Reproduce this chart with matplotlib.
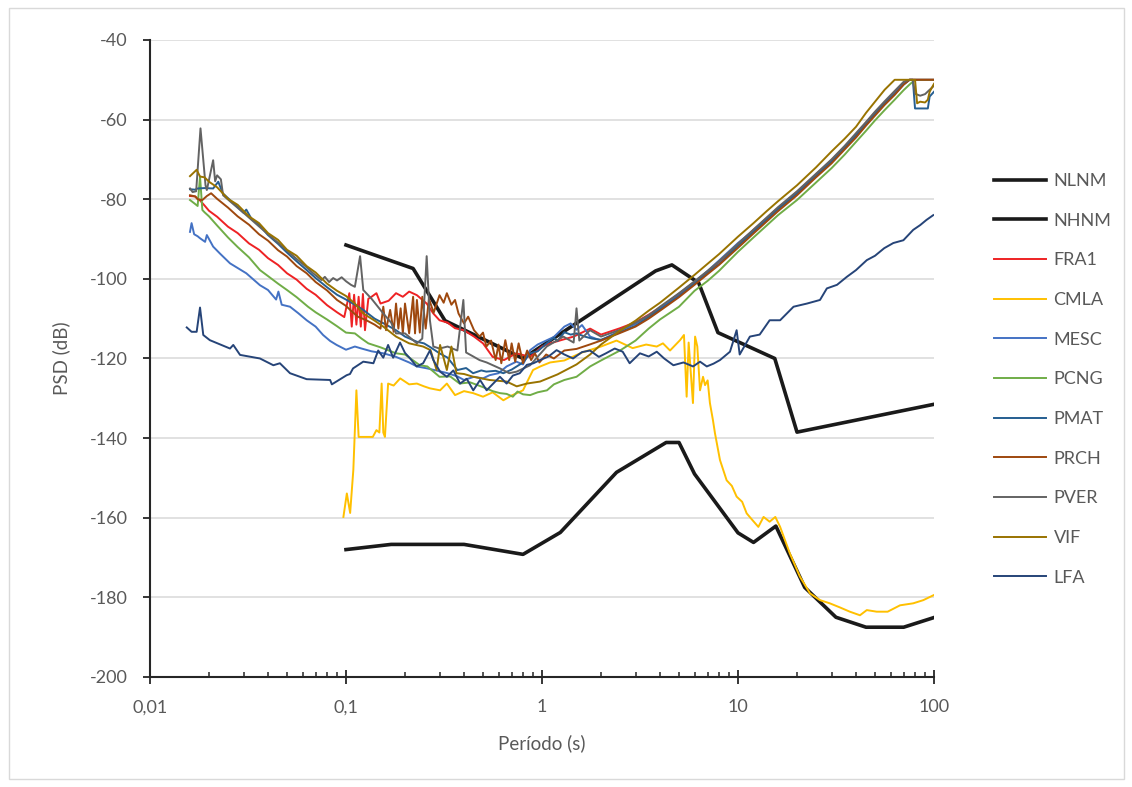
import matplotlib
matplotlib.use('Agg')
import matplotlib.pyplot as plt
from matplotlib.ticker import FixedLocator, NullFormatter
from matplotlib.patches import Rectangle

plt.rcParams['font.family'] = ['Lato', 'DejaVu Sans']
plt.rcParams['axes.unicode_minus'] = False

# ---- reference noise models (period s, PSD dB) ----
NLNM_T = [0.1, 0.17, 0.4, 0.8, 1.24, 2.4, 4.3, 5.0, 6.0, 10.0, 12.0, 15.6, 21.9, 31.6, 45.0, 70.0, 101.0]
NLNM_V = [-168.0, -166.7, -166.7, -169.2, -163.7, -148.6, -141.1, -141.1, -149.0, -163.8, -166.2, -162.1,
          -177.5, -185.0, -187.5, -187.5, -185.0]

NHNM_T = [0.1, 0.22, 0.32, 0.8, 3.8, 4.6, 6.3, 7.9, 15.4, 20.0, 354.8]
NHNM_V = [-91.5, -97.4, -110.5, -120.0, -98.0, -96.5, -101.0, -113.5, -120.0, -138.5, -126.0]

# ---- stations ----
FRA1_T = [0.016, 0.017, 0.018, 0.019, 0.02, 0.022, 0.025, 0.028, 0.032, 0.036,
          0.04, 0.045, 0.05, 0.056, 0.063, 0.07, 0.08, 0.09, 0.098, 0.104,
          0.107, 0.11, 0.113, 0.116, 0.119, 0.122, 0.125, 0.13, 0.135, 0.143,
          0.15, 0.165, 0.18, 0.195, 0.21, 0.23, 0.258, 0.279, 0.3, 0.33,
          0.36, 0.4, 0.45, 0.5, 0.56, 0.64, 0.74, 0.87, 1.0, 1.1,
          1.25, 1.45, 1.76, 2.0, 2.5, 3.0, 3.5, 4.0, 5.0, 6.0,
          7.0, 8.0, 10, 12, 14, 16, 20, 25, 30, 35,
          40, 45, 50, 56, 63, 70, 75, 80, 85, 90,
          95, 100]
FRA1_V = [-79.2, -79.3, -80.3, -81.6, -82.9, -84.4, -86.9, -88.5, -91.1, -92.7,
          -94.8, -96.5, -98.6, -100.2, -102.5, -104.0, -106.6, -108.4, -109.6, -103.6,
          -112.0, -104.0, -111.5, -104.5, -112.0, -103.8, -112.9, -105.0, -104.5, -103.6,
          -106.2, -105.5, -103.6, -104.5, -103.2, -104.1, -106.2, -108.7, -110.4, -111.0,
          -112.4, -112.9, -114.5, -116.2, -119.6, -120.4, -118.7, -119.6, -117.0, -116.2,
          -115.4, -114.5, -112.5, -114.0, -112.4, -110.9, -109.0, -107.2, -103.8, -100.8,
          -98.2, -95.7, -91.2, -87.7, -84.8, -82.2, -78.2, -73.8, -70.2, -66.8,
          -63.7, -60.8, -58.2, -55.7, -53.2, -50.8, -50.0, -50.0, -50.0, -50.0,
          -50.0, -50.0]

CMLA_T = [0.097, 0.101, 0.105, 0.109, 0.113, 0.116, 0.125, 0.137, 0.143, 0.148,
          0.152, 0.155, 0.158, 0.164, 0.175, 0.189, 0.21, 0.23, 0.25, 0.268,
          0.302, 0.327, 0.36, 0.4, 0.445, 0.5, 0.56, 0.635, 0.7, 0.8,
          0.9, 0.98, 1.1, 1.3, 1.6, 2.0, 2.4, 2.9, 3.4, 3.85,
          4.14, 4.5, 5.06, 5.3, 5.47, 5.6, 5.89, 6.04, 6.2, 6.4,
          6.63, 6.79, 7.0, 7.19, 7.45, 7.63, 8.09, 8.75, 9.3, 9.84,
          10.5, 11.07, 11.8, 12.7, 13.5, 14.5, 15.5, 16.4, 18.4, 20.7,
          23.3, 26.2, 29.4, 33, 37.2, 41.9, 45.4, 51, 58, 67.1,
          78.3, 88.2, 100]
CMLA_V = [-159.8, -153.9, -158.8, -148.0, -128.0, -139.7, -139.7, -139.7, -138.0, -138.6,
          -126.3, -138.6, -139.7, -126.3, -126.8, -125.0, -126.5, -126.3, -127.0, -127.5,
          -128.0, -126.3, -129.2, -128.2, -128.7, -129.6, -128.5, -130.5, -129.3, -128.0,
          -122.9, -122.0, -121.0, -120.5, -118.5, -117.0, -115.5, -117.4, -116.5, -117.0,
          -116.2, -118.0, -115.4, -114.1, -129.6, -116.0, -131.2, -114.5, -117.0, -128.0,
          -124.6, -126.7, -125.5, -131.2, -135.5, -138.8, -145.5, -150.6, -152.0, -154.7,
          -156.0, -158.9, -160.5, -162.3, -159.8, -161.0, -159.8, -162.3, -169.0, -174.8,
          -179.0, -180.7, -181.5, -182.5, -183.6, -184.5, -183.2, -183.6, -183.6, -182.0,
          -181.5, -180.7, -179.4]

MESC_T = [0.016, 0.0163, 0.0168, 0.0175, 0.018, 0.0191, 0.0195, 0.021, 0.0227, 0.0256,
          0.031, 0.0364, 0.04, 0.044, 0.0452, 0.047, 0.0518, 0.057, 0.063, 0.07,
          0.0764, 0.083, 0.0896, 0.1, 0.111, 0.12, 0.135, 0.155, 0.18, 0.21,
          0.23, 0.26, 0.3, 0.33, 0.37, 0.4, 0.45, 0.5, 0.54, 0.6,
          0.66, 0.74, 0.8, 0.87, 0.95, 1.06, 1.15, 1.3, 1.4, 1.5,
          1.6, 1.76, 2.0, 2.5, 3.0, 3.5, 4.0, 5.0, 6.0, 7.0,
          8.0, 10, 12, 14, 16, 20, 25, 30, 35, 40,
          45, 50, 56, 63, 70, 75, 80, 85, 90, 95,
          100]
MESC_V = [-88.2, -86.0, -88.8, -89.3, -89.8, -90.7, -89.0, -91.9, -93.6, -96.1,
          -98.6, -101.6, -102.8, -105.2, -103.2, -106.5, -107.0, -108.6, -110.4, -112.0,
          -114.1, -115.6, -116.6, -117.8, -117.0, -117.5, -118.2, -118.7, -119.6, -121.0,
          -122.0, -122.5, -123.2, -123.7, -124.5, -125.4, -124.6, -125.0, -124.2, -123.7,
          -122.0, -120.8, -121.5, -117.9, -116.5, -115.4, -114.6, -112.0, -111.2, -112.8,
          -111.6, -114.5, -115.5, -113.0, -111.3, -109.2, -107.4, -103.7, -100.8, -98.0,
          -95.4, -91.0, -87.8, -84.8, -82.3, -78.3, -73.8, -70.3, -66.9, -63.8,
          -60.9, -58.4, -55.9, -53.4, -51.0, -50.0, -50.0, -50.0, -50.0, -50.0,
          -50.0]

PCNG_T = [0.016, 0.017, 0.0175, 0.018, 0.0185, 0.019, 0.02, 0.022, 0.025, 0.028,
          0.032, 0.0364, 0.04, 0.045, 0.05, 0.056, 0.064, 0.07, 0.08, 0.09,
          0.1, 0.111, 0.12, 0.13, 0.15, 0.18, 0.2, 0.238, 0.26, 0.3,
          0.34, 0.38, 0.43, 0.5, 0.56, 0.61, 0.66, 0.71, 0.75, 0.8,
          0.87, 0.95, 1.06, 1.15, 1.3, 1.5, 1.76, 2.0, 2.5, 3.0,
          3.5, 4.0, 5.0, 6.0, 7.0, 8.0, 10, 12, 14, 16,
          20, 25, 30, 35, 40, 45, 50, 56, 63, 70,
          75, 80, 85, 90, 95, 100]
PCNG_V = [-80.2, -81.2, -81.7, -74.3, -82.7, -83.3, -84.3, -86.6, -89.6, -92.0,
          -94.6, -97.8, -99.3, -101.2, -102.8, -104.6, -107.0, -108.4, -110.2, -111.9,
          -113.5, -113.7, -115.0, -116.2, -117.2, -118.7, -119.0, -121.7, -122.0, -124.6,
          -124.5, -126.3, -126.0, -127.2, -128.2, -128.7, -128.9, -129.6, -128.3, -129.0,
          -129.2, -128.5, -128.0, -126.5, -125.4, -124.6, -122.0, -120.5, -118.0, -115.5,
          -112.5, -110.2, -107.0, -103.0, -100.5, -98.0, -93.2, -89.6, -86.6, -84.0,
          -80.2, -75.8, -72.2, -68.8, -65.6, -62.8, -60.2, -57.6, -55.0, -52.6,
          -51.2, -50.0, -50.0, -50.0, -50.0, -50.0]

PMAT_T = [0.016, 0.017, 0.0175, 0.019, 0.021, 0.0223, 0.0235, 0.026, 0.03, 0.031,
          0.033, 0.036, 0.04, 0.045, 0.05, 0.056, 0.063, 0.07, 0.08, 0.09,
          0.1, 0.111, 0.1225, 0.14, 0.16, 0.18, 0.2, 0.23, 0.25, 0.27,
          0.3, 0.33, 0.37, 0.41, 0.445, 0.49, 0.52, 0.58, 0.635, 0.7,
          0.743, 0.8, 0.87, 0.95, 1.057, 1.15, 1.2, 1.3, 1.4, 1.5,
          1.65, 1.8, 2.0, 2.5, 3.0, 3.5, 4.0, 5.0, 6.0, 7.0,
          8.0, 10, 12, 14, 16, 20, 25, 30, 35, 40,
          45, 50, 56, 63, 70, 75, 78, 80, 85, 90,
          93, 95, 100]
PMAT_V = [-77.5, -77.6, -77.3, -77.2, -77.3, -75.6, -78.5, -80.5, -83.4, -82.6,
          -85.0, -86.4, -89.0, -91.2, -93.4, -95.6, -97.8, -99.8, -102.1, -104.0,
          -105.2, -106.5, -107.8, -110.0, -111.5, -112.9, -114.5, -115.8, -116.2, -117.2,
          -118.7, -119.8, -122.9, -122.4, -123.7, -123.0, -123.3, -123.1, -123.7, -122.8,
          -122.0, -121.0, -118.7, -118.2, -116.2, -114.8, -115.6, -113.4, -114.0, -113.7,
          -114.5, -115.0, -115.3, -113.4, -111.8, -109.6, -107.7, -104.3, -101.2, -98.4,
          -96.3, -91.7, -88.2, -85.2, -82.5, -78.6, -74.2, -70.6, -67.2, -64.0,
          -61.3, -58.6, -56.0, -53.6, -51.2, -50.0, -50.0, -57.2, -57.2, -57.2,
          -57.2, -54.2, -53.0]

PRCH_T = [0.016, 0.017, 0.0175, 0.0185, 0.0195, 0.0205, 0.022, 0.025, 0.028, 0.032,
          0.036, 0.04, 0.045, 0.05, 0.056, 0.063, 0.07, 0.08, 0.09, 0.1,
          0.105, 0.115, 0.127, 0.14, 0.15, 0.155, 0.16, 0.168, 0.175, 0.18,
          0.185, 0.19, 0.195, 0.2, 0.21, 0.22, 0.225, 0.23, 0.238, 0.245,
          0.255, 0.265, 0.28, 0.3, 0.315, 0.327, 0.345, 0.36, 0.375, 0.4,
          0.42, 0.45, 0.48, 0.5, 0.52, 0.55, 0.58, 0.6, 0.62, 0.65,
          0.68, 0.7, 0.73, 0.76, 0.8, 0.84, 0.88, 0.92, 0.97, 1.05,
          1.15, 1.3, 1.5, 1.75, 2.0, 2.5, 3.0, 3.5, 4.0, 5.0,
          6.0, 7.0, 8.0, 10, 12, 14, 16, 20, 25, 30,
          35, 40, 45, 50, 56, 63, 70, 75, 80, 85,
          90, 95, 100]
PRCH_V = [-79.0, -79.3, -80.0, -80.2, -79.2, -78.5, -79.9, -82.1, -84.3, -86.4,
          -88.8, -90.4, -92.8, -94.4, -96.8, -98.6, -100.8, -102.9, -105.3, -106.8,
          -107.8, -109.5, -110.4, -111.5, -112.5, -107.0, -112.9, -107.8, -113.3, -106.2,
          -112.5, -107.4, -113.7, -106.2, -113.7, -104.5, -113.7, -105.3, -113.5, -104.5,
          -112.5, -105.0, -108.5, -104.1, -106.0, -103.6, -106.5, -105.3, -108.7, -111.2,
          -109.5, -112.9, -114.5, -113.5, -117.0, -115.5, -120.4, -116.5, -121.2, -115.4,
          -120.4, -116.2, -120.8, -116.2, -121.2, -118.0, -120.4, -118.7, -121.0, -119.0,
          -120.0, -118.0, -117.6, -116.5, -115.5, -113.6, -112.0, -110.0, -108.0, -104.6,
          -101.5, -98.8, -96.5, -92.2, -88.6, -85.6, -83.0, -79.0, -74.5, -71.0,
          -67.5, -64.5, -61.5, -59.0, -56.3, -53.8, -51.2, -50.0, -50.0, -50.0,
          -50.0, -50.0, -50.0]

PVER_T = [0.016, 0.0165, 0.0172, 0.0181, 0.0192, 0.0195, 0.021, 0.0215, 0.022, 0.023,
          0.0236, 0.026, 0.03, 0.035, 0.04, 0.045, 0.05, 0.056, 0.062, 0.068,
          0.075, 0.078, 0.082, 0.086, 0.09, 0.095, 0.1, 0.106, 0.111, 0.118,
          0.1225, 0.135, 0.155, 0.17, 0.18, 0.2, 0.23, 0.245, 0.258, 0.268,
          0.279, 0.3, 0.33, 0.37, 0.397, 0.41, 0.446, 0.48, 0.522, 0.61,
          0.68, 0.743, 0.87, 1.057, 1.285, 1.45, 1.5, 1.55, 1.757, 2.0,
          2.5, 3.0, 3.5, 4.0, 5.0, 6.0, 7.0, 8.0, 10, 12,
          14, 16, 20, 25, 30, 35, 40, 45, 50, 56,
          63, 70, 75, 78, 80, 85, 90, 95, 100]
PVER_V = [-77.3, -78.2, -78.0, -62.2, -76.5, -77.7, -70.2, -75.5, -74.0, -75.0,
          -79.0, -80.8, -83.4, -86.3, -88.8, -90.9, -92.9, -95.0, -96.8, -98.6,
          -100.3, -99.5, -100.8, -99.8, -100.4, -99.6, -100.6, -101.5, -102.0, -94.3,
          -102.8, -105.0, -108.7, -111.0, -113.7, -113.7, -116.2, -115.0, -94.3, -110.4,
          -117.0, -117.5, -117.0, -118.0, -105.3, -118.5, -119.5, -120.4, -121.0, -122.5,
          -123.7, -123.3, -121.7, -117.0, -114.5, -116.0, -107.4, -115.5, -112.9, -114.5,
          -112.8, -111.0, -109.2, -107.0, -103.6, -100.6, -98.0, -95.6, -91.2, -87.6,
          -84.6, -82.0, -78.0, -73.6, -70.0, -66.6, -63.4, -60.6, -58.0, -55.4,
          -52.8, -50.5, -50.0, -50.0, -53.5, -54.0, -53.6, -52.5, -51.5]

VIF_T = [0.016, 0.0173, 0.018, 0.019, 0.02, 0.022, 0.025, 0.028, 0.032, 0.036,
         0.04, 0.045, 0.05, 0.056, 0.063, 0.07, 0.08, 0.09, 0.1, 0.111,
         0.1225, 0.14, 0.155, 0.18, 0.21, 0.2475, 0.27, 0.29, 0.302, 0.327,
         0.345, 0.366, 0.4, 0.446, 0.54, 0.66, 0.743, 0.837, 0.977, 1.2,
         1.5, 1.76, 2.0, 2.5, 3.0, 3.5, 4.0, 5.0, 6.0, 7.0,
         8.0, 10, 12, 14, 16, 20, 25, 30, 35, 40,
         45, 50, 56, 63, 70, 75, 80, 82, 85, 90,
         93, 95, 100]
VIF_V = [-74.2, -72.6, -74.3, -74.5, -75.6, -77.0, -79.9, -81.4, -84.3, -86.0,
         -88.5, -90.2, -92.7, -94.2, -96.8, -98.4, -101.2, -103.0, -104.3, -106.2,
         -108.7, -110.5, -112.0, -114.5, -116.2, -117.0, -117.9, -122.9, -116.6, -122.9,
         -117.0, -123.7, -123.9, -124.6, -125.4, -125.8, -127.0, -126.3, -125.8, -124.0,
         -121.5, -119.0, -116.5, -113.0, -110.5, -108.0, -106.0, -102.2, -99.0, -96.2,
         -93.8, -89.4, -86.0, -83.0, -80.5, -76.5, -72.0, -68.0, -64.8, -61.8,
         -58.3, -55.5, -52.5, -50.0, -50.0, -50.0, -50.0, -55.9, -55.5, -55.7,
         -55.0, -53.0, -51.0]

LFA_T = [0.0154, 0.0163, 0.0173, 0.018, 0.0187, 0.0202, 0.0256, 0.0266, 0.0288, 0.0364,
         0.0426, 0.046, 0.0518, 0.063, 0.083, 0.0847, 0.1008, 0.1048, 0.1086, 0.1225,
         0.138, 0.146, 0.155, 0.164, 0.174, 0.1886, 0.2, 0.2124, 0.2295, 0.2475,
         0.268, 0.279, 0.302, 0.327, 0.353, 0.382, 0.413, 0.446, 0.483, 0.522,
         0.564, 0.61, 0.66, 0.71, 0.77, 0.837, 0.904, 0.977, 1.08, 1.187,
         1.3, 1.44, 1.6, 1.757, 1.95, 2.12, 2.35, 2.58, 2.8, 3.16,
         3.5, 3.85, 4.2, 4.68, 5.27, 5.9, 6.4, 6.93, 7.5, 8.09,
         9.1, 9.84, 10.2, 11.5, 12.9, 14.5, 16.4, 19.2, 22.5, 26.2,
         28.4, 32, 35.9, 40, 45.4, 50, 55.7, 62, 69.8, 78.3,
         85, 91.5, 99.1]
LFA_V = [-112.2, -113.3, -113.3, -107.2, -114.1, -115.4, -117.5, -116.6, -119.1, -120.0,
         -121.7, -121.2, -123.7, -125.2, -125.4, -126.5, -124.2, -123.9, -122.5, -120.8,
         -121.2, -118.0, -119.8, -116.6, -119.8, -116.0, -118.6, -120.0, -122.0, -121.2,
         -118.0, -120.4, -123.3, -124.6, -123.0, -126.3, -125.1, -128.0, -125.4, -128.0,
         -126.3, -124.6, -126.3, -124.3, -123.7, -121.6, -121.2, -120.4, -119.5, -117.9,
         -119.0, -120.0, -118.4, -118.0, -119.6, -118.7, -117.5, -118.3, -121.2, -118.7,
         -119.5, -118.3, -120.0, -121.7, -121.0, -122.0, -120.8, -122.0, -121.3, -120.4,
         -118.3, -112.9, -119.0, -114.5, -114.0, -110.4, -110.4, -107.0, -106.2, -105.3,
         -102.4, -101.5, -99.5, -97.8, -95.3, -94.2, -92.3, -91.0, -90.3, -87.7,
         -86.5, -85.2, -84.0]

X_TICKS = [0.01, 0.1, 1, 10, 100]
X_LABELS = ['0,01', '0,1', '1', '10', '100']
Y_TICKS = [-200, -180, -160, -140, -120, -100, -80, -60, -40]

series = [
    ('NLNM', NLNM_T, NLNM_V, '#1a1a1a', 2.6),
    ('NHNM', NHNM_T, NHNM_V, '#1a1a1a', 2.6),
    ('FRA1', FRA1_T, FRA1_V, '#EE2224', 1.4),
    ('CMLA', CMLA_T, CMLA_V, '#FFC000', 1.4),
    ('MESC', MESC_T, MESC_V, '#4472C4', 1.4),
    ('PCNG', PCNG_T, PCNG_V, '#70AD47', 1.4),
    ('PMAT', PMAT_T, PMAT_V, '#255E91', 1.4),
    ('PRCH', PRCH_T, PRCH_V, '#9E480E', 1.4),
    ('PVER', PVER_T, PVER_V, '#636363', 1.4),
    ('VIF', VIF_T, VIF_V, '#997300', 1.4),
    ('LFA', LFA_T, LFA_V, '#264478', 1.4),
]

fig = plt.figure(figsize=(11.32, 7.87), dpi=100)
# light chart-area border
fig.add_artist(Rectangle((9 / 1132, 8 / 787), 1115 / 1132, 771 / 787, transform=fig.transFigure,
                         fill=False, edgecolor='#d9d9d9', linewidth=1.0))

ax = fig.add_axes([0.1325, 0.1398, 0.6926, 0.8094])

for name, t, v, c, lw in series:
    ax.plot(t, v, color=c, linewidth=lw, label=name, solid_joinstyle='round')

ax.set_xscale('log')
ax.set_xlim(0.01, 100)
ax.set_ylim(-200, -40)

ax.xaxis.set_major_locator(FixedLocator(X_TICKS))
ax.set_xticklabels(X_LABELS)
ax.xaxis.set_minor_formatter(NullFormatter())
ax.set_yticks(Y_TICKS)
ax.set_yticklabels([str(y) for y in Y_TICKS])

ax.grid(axis='y', color='#d9d9d9', linewidth=1.1)
ax.set_axisbelow(True)
for s in ['top', 'right']:
    ax.spines[s].set_visible(False)
for s in ['left', 'bottom']:
    ax.spines[s].set_color('#262626')
    ax.spines[s].set_linewidth(1.5)

ax.tick_params(axis='y', which='major', direction='out', length=5, width=1.3, color='#262626',
               labelsize=13, labelcolor='#595959', pad=11)
ax.tick_params(axis='x', which='major', direction='inout', length=10, width=1.3, color='#262626',
               labelsize=13, labelcolor='#595959', pad=11)
ax.tick_params(axis='x', which='minor', direction='in', length=3.6, width=1.1, color='#262626')

ax.set_xlabel('Período (s)', fontsize=13.5, color='#595959', labelpad=14)
ax.set_ylabel('PSD (dB)', fontsize=13.5, color='#595959', labelpad=14)

leg = ax.legend(loc='upper left', bbox_to_anchor=(0.878, 0.780), bbox_transform=fig.transFigure,
                frameon=False, fontsize=13, handlelength=2.9, handletextpad=0.4,
                labelspacing=1.31, borderpad=0, borderaxespad=0)
for txt in leg.get_texts():
    txt.set_color('#595959')

fig.savefig('out.png', dpi=100)
